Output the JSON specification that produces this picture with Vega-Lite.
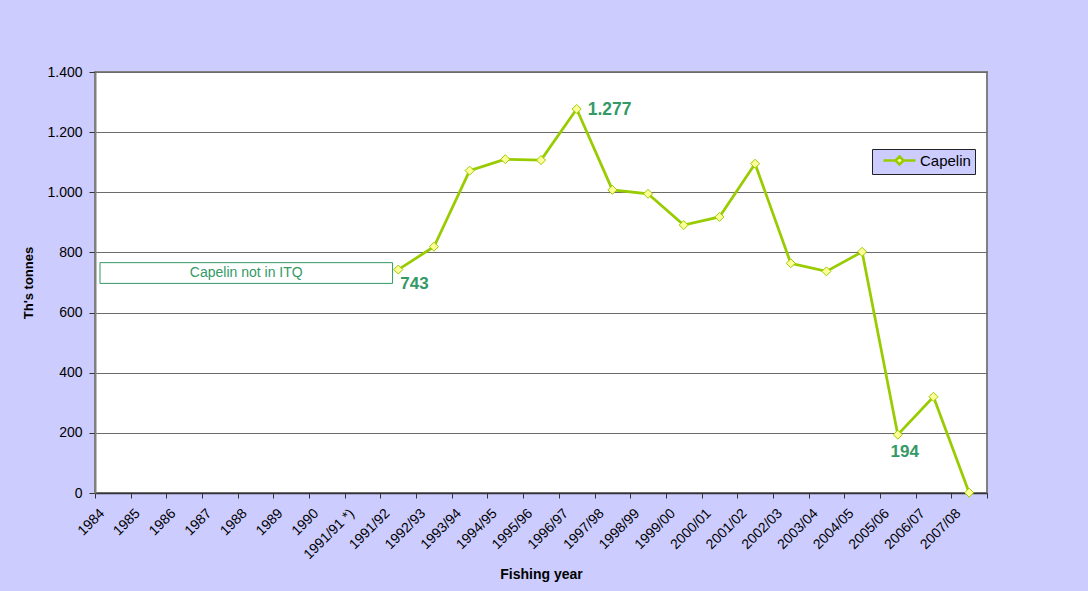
{
  "$schema": "https://vega.github.io/schema/vega-lite/v6.json",
  "width": 892,
  "height": 421,
  "autosize": {"type": "none"},
  "padding": {"left": 95, "top": 72, "right": 101, "bottom": 98},
  "background": "#CCCCFF",
  "config": {
    "locale": {"number": {"decimal": ",", "thousands": ".", "grouping": [3], "currency": ["", ""]}},
    "font": "Liberation Sans",
    "view": {"fill": "white", "stroke": "#808080", "strokeWidth": 2},
    "axis": {"labelFont": "Liberation Sans", "titleFont": "Liberation Sans", "labelColor": "black", "titleColor": "black"}
  },
  "datasets": {
    "capelin": [
      {"year": "1991/92", "value": 743},
      {"year": "1992/93", "value": 819},
      {"year": "1993/94", "value": 1072},
      {"year": "1994/95", "value": 1110},
      {"year": "1995/96", "value": 1107},
      {"year": "1996/97", "value": 1277},
      {"year": "1997/98", "value": 1008},
      {"year": "1998/99", "value": 995},
      {"year": "1999/00", "value": 891},
      {"year": "2000/01", "value": 918},
      {"year": "2001/02", "value": 1095},
      {"year": "2002/03", "value": 764},
      {"year": "2003/04", "value": 737},
      {"year": "2004/05", "value": 802},
      {"year": "2005/06", "value": 194},
      {"year": "2006/07", "value": 320},
      {"year": "2007/08", "value": 1}
    ],
    "note": [
      {"start": 0.14, "end": 8.34, "top": 766, "bottom": 697, "mid": 731, "text": "Capelin not in ITQ"}
    ]
  },
  "layer": [
    {
      "data": {"name": "note"},
      "layer": [
        {
          "mark": {"type": "rect", "fill": "white", "stroke": "#339966", "strokeWidth": 1},
          "encoding": {
            "x": {"field": "start", "type": "quantitative", "scale": {"domain": [0, 25], "nice": false, "zero": false}, "axis": null},
            "x2": {"field": "end"},
            "y": {"field": "top", "type": "quantitative"},
            "y2": {"field": "bottom"}
          }
        },
        {
          "mark": {"type": "text", "fontSize": 14, "color": "#339966", "align": "center", "baseline": "middle"},
          "encoding": {
            "x": {"datum": 4.24, "type": "quantitative", "scale": {"domain": [0, 25], "nice": false, "zero": false}, "axis": null},
            "y": {"field": "mid", "type": "quantitative"},
            "text": {"field": "text"}
          }
        }
      ]
    },
    {
      "data": {"name": "capelin"},
      "encoding": {
        "x": {
          "field": "year",
          "type": "nominal",
          "sort": null,
          "scale": {
            "domain": ["1984", "1985", "1986", "1987", "1988", "1989", "1990", "1991/91 *)", "1991/92", "1992/93", "1993/94", "1994/95", "1995/96", "1996/97", "1997/98", "1998/99", "1999/00", "2000/01", "2001/02", "2002/03", "2003/04", "2004/05", "2005/06", "2006/07", "2007/08"],
            "paddingInner": 0,
            "paddingOuter": 0
          },
          "axis": {
            "title": "Fishing year",
            "titleFontSize": 14,
            "titleFontWeight": "bold",
            "titlePadding": 6,
            "labelAngle": -45,
            "labelAlign": "right",
            "labelBaseline": "middle",
            "labelFontSize": 14,
            "labelPadding": 13,
            "labelOffset": -11,
            "tickBand": "extent",
            "tickSize": 5,
            "tickColor": "#333333",
            "domainColor": "#333333",
            "domainWidth": 1.5,
            "grid": false
          }
        },
        "y": {
          "field": "value",
          "type": "quantitative",
          "scale": {"domain": [0, 1400], "nice": false},
          "axis": {
            "title": "Th's tonnes",
            "titleFontSize": 13,
            "titleFontWeight": "bold",
            "titlePadding": 11,
            "values": [0, 200, 400, 600, 800, 1000, 1200, 1400],
            "format": ",d",
            "labelFontSize": 14,
            "labelPadding": 7,
            "tickSize": 6,
            "tickColor": "#333333",
            "domainColor": "#808080",
            "domainWidth": 2,
            "grid": true,
            "gridColor": "#6b6b6b",
            "gridWidth": 1
          }
        }
      },
      "layer": [
        {
          "mark": {"type": "line", "strokeWidth": 2.75},
          "encoding": {
            "color": {
              "datum": "Capelin",
              "type": "nominal",
              "scale": {"range": ["#99CC00"]},
              "legend": {
                "title": null,
                "orient": "none",
                "legendX": 777,
                "legendY": 77,
                "fillColor": "#CCCCFF",
                "strokeColor": "#222222",
                "padding": 4,
                "labelFontSize": 15,
                "labelColor": "black",
                "labelFont": "Liberation Sans",
                "symbolType": "M-4,0H-1M1,0H4M0,-1L1,0L0,1L-1,0Z",
                "symbolSize": 64,
                "symbolStrokeWidth": 2.5,
                "symbolOffset": 16,
                "labelOffset": 13,
                "encode": {
                  "symbols": {"update": {"fill": {"value": "#FFFF99"}, "stroke": {"value": "#99CC00"}, "strokeWidth": {"value": 2.5}, "opacity": {"value": 1}}}
                }
              }
            }
          }
        },
        {
          "mark": {"type": "point", "shape": "diamond", "filled": true, "fill": "#FFFF99", "stroke": "#99CC00", "strokeWidth": 1, "size": 81, "opacity": 1}
        },
        {
          "transform": [{"filter": "datum.year === '1991/92'"}],
          "mark": {"type": "text", "fontSize": 17, "fontWeight": "bold", "color": "#339966", "align": "left", "baseline": "middle", "dx": 2, "dy": 14},
          "encoding": {"text": {"field": "value", "type": "quantitative", "format": ",d"}}
        },
        {
          "transform": [{"filter": "datum.year === '1996/97'"}],
          "mark": {"type": "text", "fontSize": 17.5, "fontWeight": "bold", "color": "#339966", "align": "left", "baseline": "middle", "dx": 11, "dy": 1},
          "encoding": {"text": {"field": "value", "type": "quantitative", "format": ",d"}}
        },
        {
          "transform": [{"filter": "datum.year === '2005/06'"}],
          "mark": {"type": "text", "fontSize": 17, "fontWeight": "bold", "color": "#339966", "align": "center", "baseline": "middle", "dx": 7, "dy": 17},
          "encoding": {"text": {"field": "value", "type": "quantitative", "format": ",d"}}
        }
      ]
    }
  ],
  "resolve": {"scale": {"x": "independent"}, "axis": {"x": "independent"}}
}
